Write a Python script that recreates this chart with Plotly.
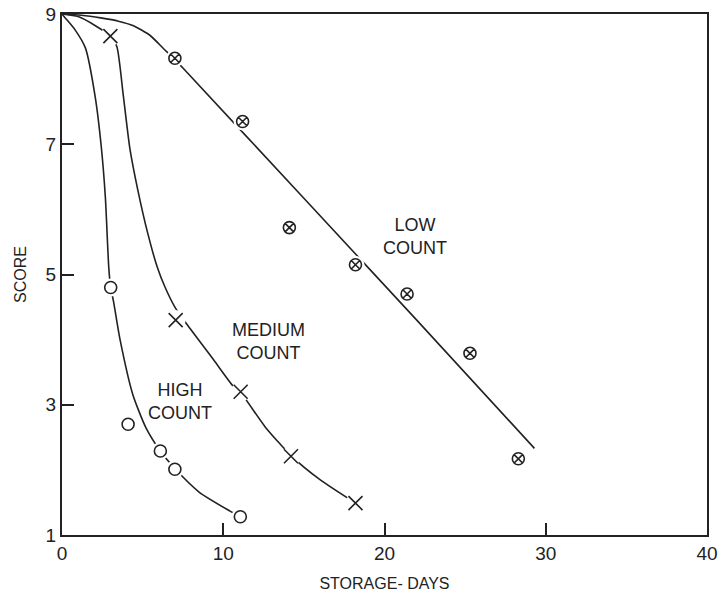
import plotly.graph_objects as go

# Observed data points
low_x = [7.0, 11.2, 14.1, 18.2, 21.4, 25.3, 28.3]
low_y = [8.32, 7.35, 5.72, 5.15, 4.70, 3.79, 2.17]
med_x = [3.0, 7.05, 11.08, 14.2, 18.2]
med_y = [8.66, 4.30, 3.20, 2.21, 1.49]
high_x = [3.02, 4.1, 6.1, 7.0, 11.06]
high_y = [4.80, 2.70, 2.29, 2.01, 1.28]

# Hand-drawn fitted curves
low_fit_x = [0, 1.2, 2.4, 3.5, 4.43, 5.47, 6.29, 7.0, 7.5, 15.0, 22.0, 29.3]
low_fit_y = [9, 8.98, 8.94, 8.89, 8.82, 8.67, 8.47, 8.3, 8.17, 6.17, 4.30, 2.33]
med_fit_x = [0, 1.0, 2.07, 3.0, 3.4, 3.8, 4.2, 4.7, 5.3, 5.9, 6.4, 7.0, 7.7, 9.4, 10.6, 11.1,
             12.6, 14.2, 16.0, 18.2]
med_fit_y = [9, 8.96, 8.82, 8.66, 8.5, 7.75, 6.95, 6.3, 5.65, 5.12, 4.8, 4.5, 4.25, 3.69, 3.29, 3.18,
             2.66, 2.22, 1.85, 1.49]
high_fit_x = [0, 0.2, 0.8, 1.45, 2.07, 2.44, 2.69, 2.9, 3.02, 3.2, 3.6, 4.4, 5.2, 6.1, 7.0,
              8.5, 10.4, 11.06]
high_fit_y = [9, 8.94, 8.76, 8.48, 7.71, 6.95, 6.18, 5.11, 4.8, 4.58, 4.0, 3.15, 2.65, 2.29, 2.02,
              1.66, 1.37, 1.28]

x_ticks = [0, 10, 20, 30, 40]
y_ticks = [1, 3, 5, 7, 9]

INK = "#222222"
FONT = "Liberation Sans, Arial, sans-serif"

fig = go.Figure()

def curve(xs, ys):
    fig.add_trace(go.Scatter(x=xs, y=ys, mode="lines",
                             line=dict(color=INK, width=1.6, shape="spline", smoothing=0.6),
                             hoverinfo="skip", showlegend=False))

def marks(xs, ys, symbol, size):
    # white halo to break the curve near the markers
    fig.add_trace(go.Scatter(x=xs, y=ys, mode="markers",
                             marker=dict(symbol="circle", size=size + 6, color="white",
                                         line=dict(width=0)),
                             hoverinfo="skip", showlegend=False))
    fig.add_trace(go.Scatter(x=xs, y=ys, mode="markers",
                             marker=dict(symbol=symbol, size=size, color=INK,
                                         line=dict(color=INK, width=1.6)),
                             showlegend=False))

curve(low_fit_x, low_fit_y)
curve(med_fit_x, med_fit_y)
curve(high_fit_x, high_fit_y)
marks(low_x, low_y, "circle-x-open", 12)
marks(med_x, med_y, "x-thin-open", 14)
marks(high_x, high_y, "circle-open", 12)

ann_font = dict(family=FONT, size=18, color=INK)
fig.add_annotation(x=21.9, y=5.59, text="LOW<br>COUNT", showarrow=False, font=ann_font)
fig.add_annotation(x=12.8, y=3.97, text="MEDIUM<br>COUNT", showarrow=False, font=ann_font)
fig.add_annotation(x=7.33, y=3.05, text="HIGH<br>COUNT", showarrow=False, font=ann_font)

axis_common = dict(showgrid=False, zeroline=False, showline=True, linecolor=INK,
                   linewidth=2, mirror=True, ticks="inside", ticklen=12,
                   tickwidth=1.6, tickcolor=INK, automargin=False,
                   tickfont=dict(family=FONT, size=19, color=INK))

fig.update_layout(
    width=719, height=596,
    margin=dict(l=62, r=12, t=14, b=61),
    plot_bgcolor="white", paper_bgcolor="white",
    xaxis=dict(range=[0, 40], tickvals=x_ticks,
               title=dict(text="STORAGE- DAYS", font=dict(family=FONT, size=16, color=INK)),
               **axis_common),
    yaxis=dict(range=[1, 9], tickvals=y_ticks,
               title=dict(text="SCORE", font=dict(family=FONT, size=16, color=INK)),
               **axis_common),
)

fig.write_html("out.html", config={"displayModeBar": False},
               post_script="document.body.style.margin='0';document.body.style.overflow='hidden';")
